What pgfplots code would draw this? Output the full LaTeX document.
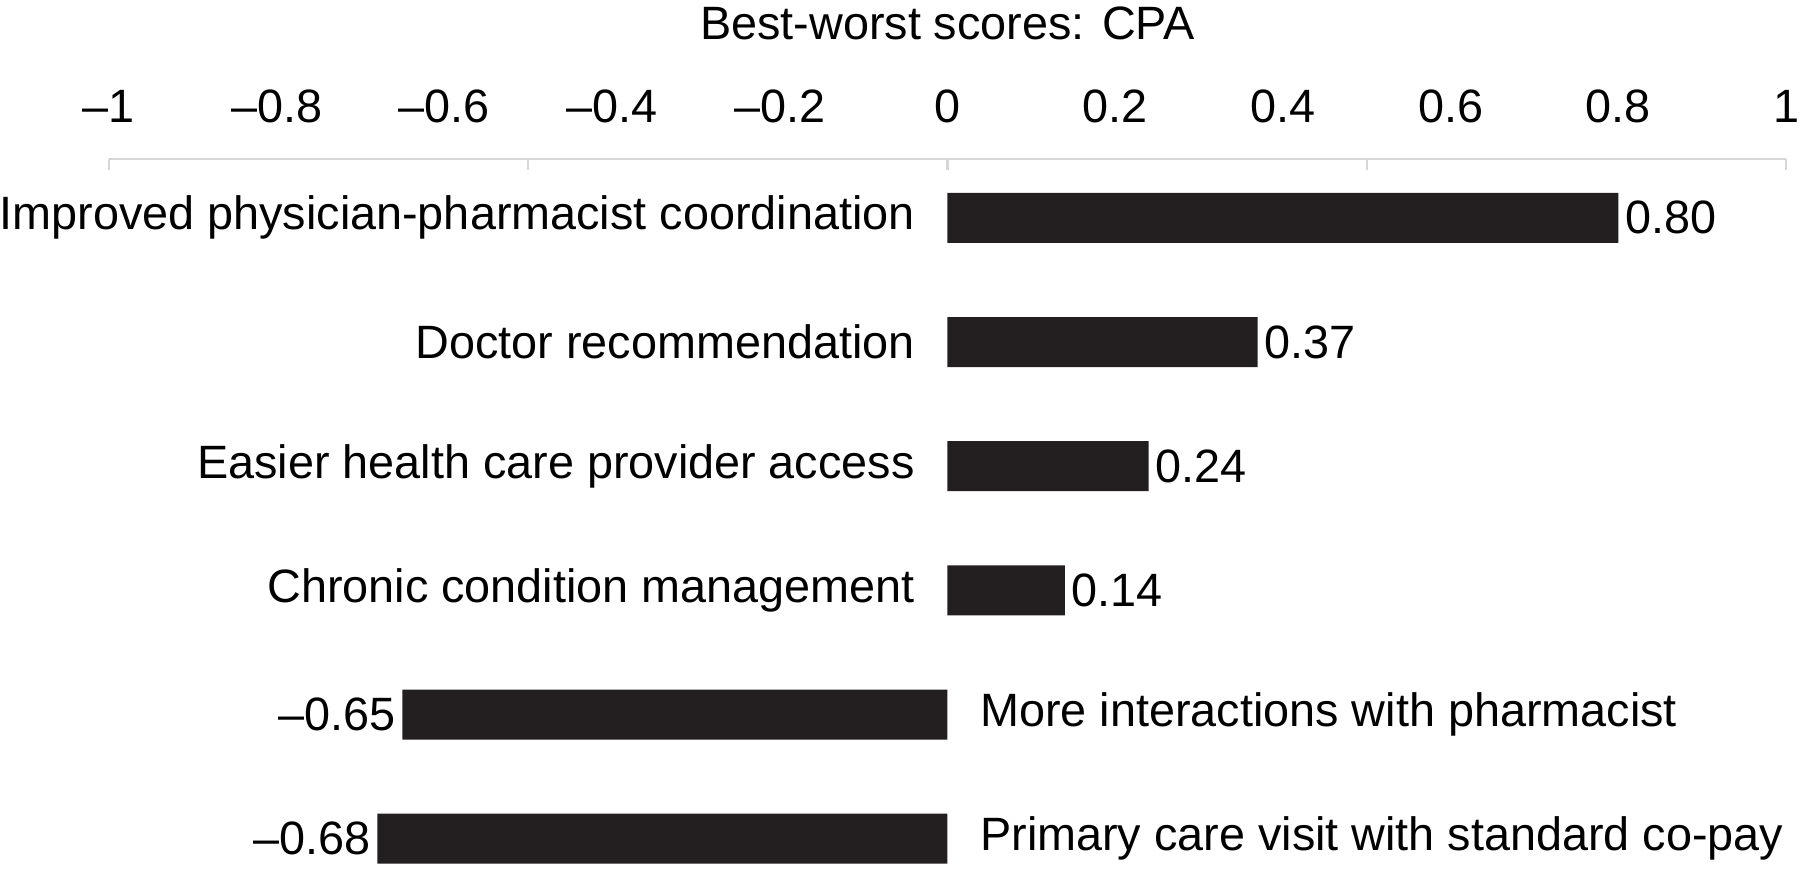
\documentclass[border=0pt]{standalone}
\usepackage{pgfplots}
\pgfplotsset{compat=1.18}
\usepackage{pgfplotstable}
\usepackage{fontspec}
\setmainfont{Liberation Sans}

\definecolor{barblack}{HTML}{231F20}
\definecolor{axisgray}{HTML}{D6D6D6}

% rank, score, value label
\pgfplotstableread[col sep=comma]{
rank,score,lab
1,0.80,0.80
2,0.37,0.37
3,0.24,0.24
4,0.14,0.14
}\posscores
\pgfplotstableread[col sep=comma]{
rank,score,lab
5,-0.65,–0.65
6,-0.68,–0.68
}\negscores

\begin{document}
\begin{tikzpicture}[font=\fontsize{11.7}{14}\selectfont]
\begin{axis}[
  width=419.5pt, height=177.5pt, scale only axis,
  xmin=-1, xmax=1,
  ymin=0.525, ymax=6.24,
  y dir=reverse,
  axis x line*=top,
  axis y line=none,
  x axis line style={axisgray, line width=0.6pt},
  xtick={-1,-0.8,-0.6,-0.4,-0.2,0,0.2,0.4,0.6,0.8,1},
  xticklabels={–1,–0.8,–0.6,–0.4,–0.2,0,0.2,0.4,0.6,0.8,1},
  major tick length=0pt,
  xticklabel shift=5.5pt,
  extra x ticks={-1,-0.5,0,0.5,1},
  extra x tick labels={},
  extra x tick style={major tick length=2.8pt, tick align=inside,
    tick style={axisgray, line width=0.6pt}},
  xbar, bar width=12.5pt, bar shift=0pt,
  nodes near coords,
  point meta=explicit symbolic,
  clip=false,
]
\addplot[fill=barblack, draw=none,
  every node near coord/.style={anchor=west, inner sep=1.5pt}]
  table[x=score, y=rank, meta=lab] {\posscores};
\addplot[fill=barblack, draw=none,
  every node near coord/.style={anchor=east, inner sep=1.5pt}]
  table[x=score, y=rank, meta=lab] {\negscores};

\node[inner sep=0pt, anchor=base] at (rel axis cs:0.5,1) [yshift=29.8pt] {Best-worst scores: CPA};

\begin{scope}[every node/.style={inner sep=0pt}]
\node[anchor=east, xshift=-8pt] at (axis cs:0,1) {Improved physician-pharmacist coordination};
\node[anchor=east, xshift=-8pt] at (axis cs:0,2) {Doctor recommendation};
\node[anchor=east, xshift=-8pt] at (axis cs:0,3) {Easier health care provider access};
\node[anchor=east, xshift=-8pt] at (axis cs:0,4) {Chronic condition management};
\node[anchor=west, xshift=8pt] at (axis cs:0,5) {More interactions with pharmacist};
\node[anchor=west, xshift=8pt] at (axis cs:0,6) {Primary care visit with standard co-pay};
\end{scope}

\coordinate (tl) at ([xshift=-27.25pt, yshift=39.75pt]rel axis cs:0,1);
\coordinate (br) at ([xshift=3.5pt]rel axis cs:1,0);
\end{axis}
\pgfresetboundingbox
\path[use as bounding box] (tl) rectangle (br);
\end{tikzpicture}
\end{document}
